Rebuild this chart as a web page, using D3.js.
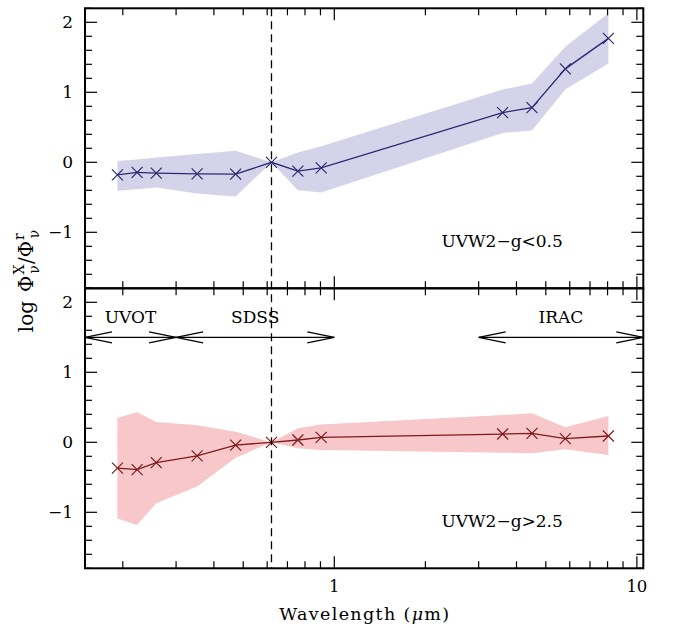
<!DOCTYPE html>
<html>
<head>
<meta charset="utf-8">
<script src="https://cdn.jsdelivr.net/npm/d3@7"></script>
<style>
  body { margin: 0; background: #fff; }
  text { font-family: "DejaVu Serif", serif; fill: #000; }
</style>
</head>
<body>
<svg id="chart" width="673" height="628"></svg>
<script>
// Band wavelengths (micron): UVOT UVW2, UVM2, UVW1; SDSS u g r i z; IRAC 3.6 4.5 5.8 8.0
const wavelengths = [0.192, 0.223, 0.258, 0.352, 0.472, 0.62, 0.758, 0.905, 3.6, 4.5, 5.8, 8.05];

// Blue sample: UVW2-g < 0.5 (median and spread)
const blueMedian = [-0.18, -0.145, -0.155, -0.165, -0.17, 0, -0.125, -0.08, 0.71, 0.78, 1.335, 1.77];
const blueUpper  = [0.02, 0.04, 0.07, 0.12, 0.165, 0, 0.14, 0.23, 1.04, 1.125, 1.65, 2.13];
const blueLower  = [-0.405, -0.385, -0.36, -0.445, -0.49, 0, -0.4, -0.43, 0.42, 0.455, 1.04, 1.41];

// Red sample: UVW2-g > 2.5
const redMedian = [-0.37, -0.39, -0.29, -0.195, -0.04, 0, 0.033, 0.071, 0.118, 0.128, 0.052, 0.09];
const redUpper  = [0.35, 0.43, 0.29, 0.245, 0.15, 0, 0.2, 0.255, 0.39, 0.414, 0.214, 0.376];
const redLower  = [-1.09, -1.18, -0.87, -0.63, -0.22, 0, -0.086, -0.11, -0.148, -0.157, -0.1, -0.18];

const panelLabels = ["UVW2\u2212g<0.5", "UVW2\u2212g>2.5"];
const yTickLabels = [-1, 0, 1, 2];
const xTickLabels = [1, 10];
const referenceWavelength = 0.62; // r band normalisation

// Instrument coverage
const instrumentNames = ["UVOT", "SDSS", "IRAC"];
const instrumentFrom  = [0.15, 0.3, 3.0];
const instrumentTo    = [0.3, 1.0, 10.5];
const instrumentLevel = 1.5;

const svg = d3.select("#chart");
const left = 85, right = 643.3, panelH = 280;
const tops = [8.3, 8.3 + panelH];

const x = d3.scaleLog().domain([0.15, 10.5]).range([left, right]);
const yFor = top => d3.scaleLinear().domain([-1.8, 2.2]).range([top + panelH, top]);

const panels = [
  { top: tops[0], mid: blueMedian, up: blueUpper, lo: blueLower, band: "#d5d3ea", line: "#2c2a70", label: panelLabels[0] },
  { top: tops[1], mid: redMedian,  up: redUpper,  lo: redLower,  band: "#f8c7c9", line: "#7e1a1c", label: panelLabels[1] }
];

const xMinor = x.ticks();
const yMinor = d3.range(-18, 23, 2).map(v => v / 10);

panels.forEach((p, pi) => {
  const y = yFor(p.top);
  const g = svg.append("g");
  const pts = wavelengths.map((w, i) => ({ w, m: p.mid[i], u: p.up[i], l: p.lo[i] }));

  // spread band
  g.append("path")
    .attr("d", d3.area().x(d => x(d.w)).y0(d => y(d.l)).y1(d => y(d.u))(pts))
    .attr("fill", p.band);

  // median line
  g.append("path")
    .attr("d", d3.line().x(d => x(d.w)).y(d => y(d.m))(pts))
    .attr("fill", "none").attr("stroke", p.line).attr("stroke-width", 1.3);

  // cross markers
  g.selectAll("path.mk").data(pts).join("path")
    .attr("class", "mk")
    .attr("transform", d => `translate(${x(d.w)},${y(d.m)})`)
    .attr("d", "M-5.5,-5.5L5.5,5.5M-5.5,5.5L5.5,-5.5")
    .attr("stroke", p.line).attr("stroke-width", 1.2).attr("fill", "none");

  // ticks on all four sides
  const t = g.append("g").attr("stroke", "#000").attr("stroke-width", 1.2);
  xMinor.forEach(v => {
    const major = Math.abs(Math.log10(v) - Math.round(Math.log10(v))) < 1e-9;
    const len = major ? 12 : 7;
    t.append("line").attr("x1", x(v)).attr("x2", x(v)).attr("y1", p.top + panelH).attr("y2", p.top + panelH - len);
    t.append("line").attr("x1", x(v)).attr("x2", x(v)).attr("y1", p.top).attr("y2", p.top + len);
  });
  yMinor.forEach(v => {
    const major = Math.abs(v - Math.round(v)) < 1e-9;
    const len = major ? 12 : 7;
    t.append("line").attr("x1", left).attr("x2", left + len).attr("y1", y(v)).attr("y2", y(v));
    t.append("line").attr("x1", right).attr("x2", right - len).attr("y1", y(v)).attr("y2", y(v));
  });

  // y tick labels
  yTickLabels.forEach(v => {
    g.append("text").attr("x", 73).attr("y", y(v)).attr("dy", "0.36em")
      .attr("text-anchor", "end").attr("font-size", 17)
      .text(v < 0 ? "\u2212" + Math.abs(v) : String(v));
  });

  // sample label
  g.append("text").attr("x", 441.5).attr("y", y(-1.8) - 41.5)
    .attr("font-size", 17).text(p.label);

  if (pi === 1) {
    // instrument coverage arrows
    const ay = y(instrumentLevel);
    const hl = 27, hw = 5.5;
    instrumentNames.forEach((name, i) => {
      const x1 = x(instrumentFrom[i]), x2 = x(instrumentTo[i]);
      const a = g.append("g").attr("stroke", "#000").attr("stroke-width", 1.2).attr("fill", "none");
      a.append("line").attr("x1", x1).attr("x2", x2).attr("y1", ay).attr("y2", ay);
      a.append("path").attr("d", `M${x1 + hl},${ay - hw}L${x1},${ay}L${x1 + hl},${ay + hw}`);
      a.append("path").attr("d", `M${x2 - hl},${ay - hw}L${x2},${ay}L${x2 - hl},${ay + hw}`);
      g.append("text").attr("x", (x1 + x2) / 2).attr("y", ay - 14)
        .attr("text-anchor", "middle").attr("font-size", 17).text(name);
    });

    xTickLabels.forEach(v => {
      g.append("text").attr("x", x(v)).attr("y", p.top + panelH + 23.5)
        .attr("text-anchor", "middle").attr("font-size", 16.5).text(String(v));
    });
  }
});

// r-band reference line through both panels
svg.append("line")
  .attr("x1", x(referenceWavelength)).attr("x2", x(referenceWavelength))
  .attr("y1", tops[0]).attr("y2", tops[1] + panelH)
  .attr("stroke", "#000").attr("stroke-width", 1.3).attr("stroke-dasharray", "8,5");

// frames
tops.forEach(top => {
  svg.append("rect").attr("x", left).attr("y", top).attr("width", right - left).attr("height", panelH)
    .attr("fill", "none").attr("stroke", "#000").attr("stroke-width", 2);
});

// axis titles
const xt = svg.append("text").attr("x", (left + right) / 2).attr("y", 620)
  .attr("text-anchor", "middle").attr("font-size", 17.5)
  .attr("textLength", 170).attr("lengthAdjust", "spacing");
xt.append("tspan").text("Wavelength (");
xt.append("tspan").attr("font-style", "italic").text("\u03bc");
xt.append("tspan").text("m)");

const yt = svg.append("text")
  .attr("transform", `translate(33,281) rotate(-90)`)
  .attr("text-anchor", "middle").attr("font-size", 20);
yt.append("tspan").text("log");
yt.append("tspan").attr("dx", 9).text("\u03a6");
yt.append("tspan").attr("font-size", 14).attr("dx", 1).attr("dy", -9).text("X");
yt.append("tspan").attr("font-size", 14).attr("dx", -9).attr("dy", 15).text("\u03bd");
yt.append("tspan").attr("dx", 1).attr("dy", -6).text("/\u03a6");
yt.append("tspan").attr("font-size", 14).attr("dx", 1).attr("dy", -9).text("r");
yt.append("tspan").attr("font-size", 14).attr("dx", -5).attr("dy", 15).text("\u03bd");
</script>
</body>
</html>
